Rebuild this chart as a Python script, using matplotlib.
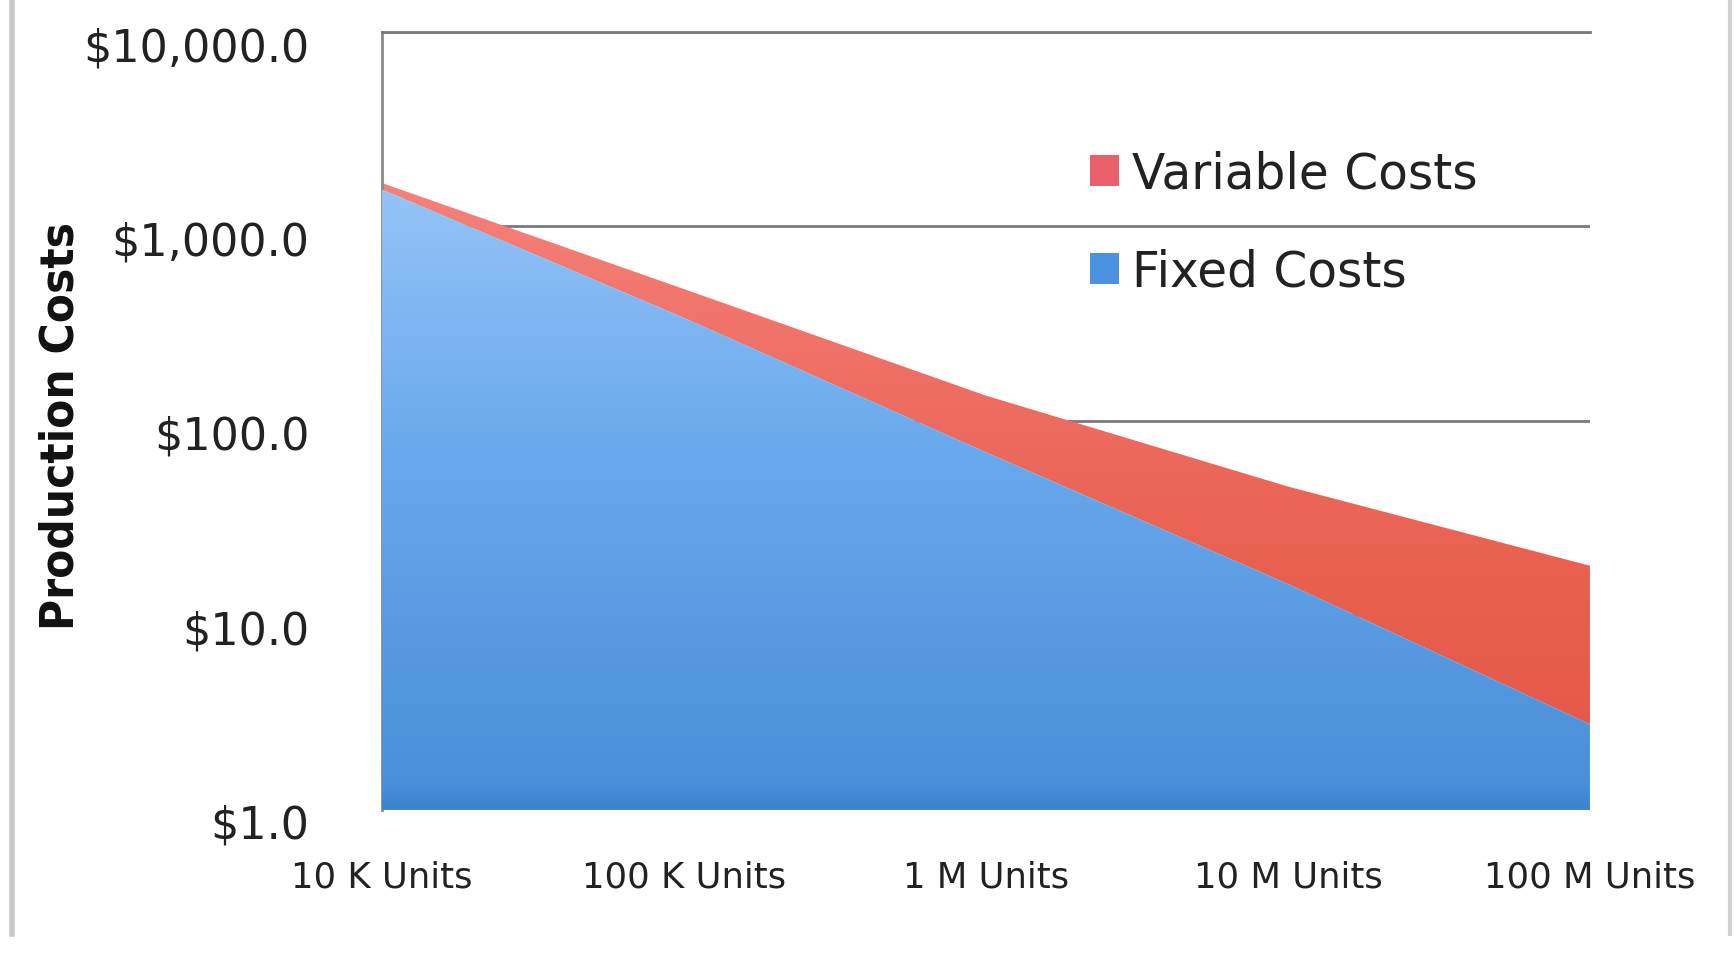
import numpy as np
import matplotlib.pyplot as plt
from matplotlib.colors import LinearSegmentedColormap
from matplotlib.patches import Patch
from matplotlib.transforms import ScaledTranslation


# production volume categories and per-unit costs ($)
units = ['10 K Units', '100 K Units', '1 M Units', '10 M Units', '100 M Units']
fixed_costs = [1550.0, 339.0, 69.0, 14.5, 2.75]
variable_costs = [125.0, 138.0, 66.0, 31.5, 15.25]
y_ticks = [1, 10, 100, 1000, 10000]


def gradient_fill(ax, x, y_low, y_high, colors, zorder):
    # fill between two curves, then paint a vertical gradient clipped to it
    poly = ax.fill_between(x, y_low, y_high, color='none', lw=0, zorder=zorder)
    cmap = LinearSegmentedColormap.from_list('g', colors)
    grad = np.linspace(0, 1, 256).reshape(-1, 1)
    im = ax.imshow(grad, cmap=cmap, extent=[0, 1, 0, 1], origin='lower',
                   transform=ax.transAxes, aspect='auto', zorder=zorder,
                   interpolation='bicubic')
    path = poly.get_paths()[0]
    im.set_clip_path(path, transform=ax.transData)
    return poly


fig = plt.figure(figsize=(17.35, 9.54), dpi=100)
ax = fig.add_axes([0.220, 0.150, 0.6964, 0.8154])

x = np.arange(len(units))
fixed = np.array(fixed_costs)
total = fixed + np.array(variable_costs)
ones = np.ones_like(fixed)

ax.set_yscale('log')

gradient_fill(ax, x, ones, fixed,
              [(0.00, '#3a84d0'), (0.03, '#4a8fd8'), (0.45, '#68a8ec'),
               (0.80, '#94c3f7'), (1.00, '#a6cffa')], zorder=3)
gradient_fill(ax, x, fixed, total,
              [(0.00, '#e35646'), (0.30, '#e9604f'), (0.55, '#ef6e64'),
               (0.85, '#f6857e'), (1.00, '#f99a95')], zorder=2)

ax.set_xlim(0, len(units) - 1)
ax.set_ylim(1, 10000)

ax.set_yticks(y_ticks)
ax.set_yticklabels(['${:,.1f}'.format(v) for v in y_ticks])
ax.minorticks_off()
ax.set_xticks(x)
ax.set_xticklabels(units)

ax.yaxis.grid(True, color='#7a7a7a', lw=2)
ax.set_axisbelow(True)
ax.tick_params(axis='y', length=0, pad=52, labelsize=32, labelcolor='#222222')
ax.tick_params(axis='x', length=0, pad=36, labelsize=25.5, labelcolor='#222222')

for tick in ax.yaxis.get_major_ticks():
    tick.label1.set_transform(tick.label1.get_transform() +
                              ScaledTranslation(0, -0.11, fig.dpi_scale_trans))

for side in ['right', 'bottom']:
    ax.spines[side].set_visible(False)
ax.spines['top'].set_color('#7a7a7a')
ax.spines['top'].set_linewidth(2)
ax.spines['left'].set_color('#8a8a8a')
ax.spines['left'].set_linewidth(2)

fig.text(61 / 1735, 1 - 426 / 954, 'Production Costs', rotation=90,
         ha='center', va='center', fontsize=34, fontweight='bold',
         fontstretch='condensed', family='DejaVu Sans', color='#111111')

handles = [Patch(facecolor='#e9606a', edgecolor='none'),
           Patch(facecolor='#4b93e0', edgecolor='none')]
fig.legend(handles, ['Variable Costs', 'Fixed Costs'], loc='upper left',
           bbox_to_anchor=(1066 / 1735, 1 - 126 / 954), frameon=False,
           fontsize=35, handlelength=0.6, handleheight=0.6,
           handletextpad=0.25, labelspacing=1.03, borderpad=0,
           labelcolor='#222222')

# thin gray frame edges of the chart area
fig.add_artist(plt.Line2D([12 / 1735, 12 / 1735], [0.02, 1.0],
                          color='#c8c8c8', lw=4))
fig.add_artist(plt.Line2D([1730 / 1735, 1730 / 1735], [0.02, 1.0],
                          color='#d0d0d0', lw=3))

fig.savefig('out.png', dpi=100)
